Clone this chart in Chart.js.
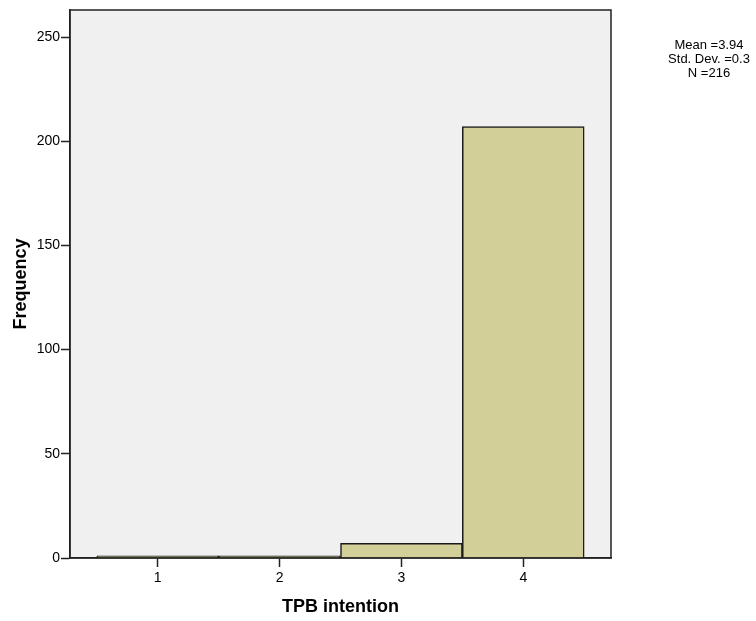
<!DOCTYPE html>
<html>
<head>
<meta charset="utf-8">
<script src="https://cdn.jsdelivr.net/npm/chart.js@4"></script>
<style>
  html, body { margin: 0; padding: 0; background: #fff; }
  #wrap { width: 756px; height: 621px; }
</style>
</head>
<body>
<div id="wrap"><canvas id="histChart" width="756" height="621"></canvas></div>
<script>
// TPB intention histogram data
const categories = [1, 2, 3, 4];
const frequencies = [1, 1, 7, 207];
const yTicks = [0, 50, 100, 150, 200, 250];
const statsLines = ['Mean =3.94', 'Std. Dev. =0.3', 'N =216'];

const font = 'Liberation Sans, Arial, sans-serif';

const plotFrame = {
    id: 'plotFrame',
    beforeDraw(chart) {
        const { ctx, chartArea: a } = chart;
        ctx.save();
        ctx.fillStyle = '#f0f0f0';
        ctx.fillRect(a.left, a.top, a.right - a.left, a.bottom - a.top);
        ctx.restore();
    },
    afterDraw(chart) {
        const { ctx, chartArea: a } = chart;
        ctx.save();
        ctx.strokeStyle = '#222';
        ctx.lineWidth = 1.5;
        ctx.strokeRect(a.left, a.top, a.right - a.left, a.bottom - a.top);

        // stats box text
        ctx.fillStyle = '#000';
        ctx.font = '13px ' + font;
        ctx.textAlign = 'center';
        ctx.textBaseline = 'middle';
        statsLines.forEach((line, i) => {
            ctx.fillText(line, 709, 45 + i * 14);
        });
        ctx.restore();
    }
};

const ctx = document.getElementById('histChart').getContext('2d');
new Chart(ctx, {
    type: 'bar',
    data: {
        datasets: [{
            data: categories.map((c, i) => ({ x: c, y: frequencies[i] })),
            backgroundColor: '#d3cf98',
            borderColor: '#1a1a1a',
            borderWidth: 1.5,
            barPercentage: 1,
            categoryPercentage: 1
        }]
    },
    options: {
        responsive: false,
        animation: false,
        layout: { padding: { top: 10, right: 145, left: 0, bottom: 0 } },
        plugins: {
            legend: { display: false },
            tooltip: { enabled: false }
        },
        scales: {
            x: {
                type: 'linear',
                offset: false,
                min: 0.28,
                max: 4.72,
                afterFit(scale) { scale.height = 63; },
                afterBuildTicks(scale) {
                    scale.ticks = categories.map(v => ({ value: v }));
                },
                ticks: {
                    color: '#000',
                    font: { family: font, size: 14 },
                    padding: 3
                },
                grid: {
                    offset: false,
                    drawOnChartArea: false,
                    tickLength: 9,
                    tickColor: '#222',
                    tickWidth: 1.5
                },
                border: { color: '#222', width: 1.5 },
                title: {
                    display: true,
                    text: 'TPB intention',
                    color: '#000',
                    font: { family: font, size: 18, weight: 'bold' },
                    padding: { top: 0, bottom: 3 }
                }
            },
            y: {
                min: 0,
                max: 263,
                afterFit(scale) { scale.width = 70; },
                afterBuildTicks(scale) {
                    scale.ticks = yTicks.map(v => ({ value: v }));
                },
                ticks: {
                    color: '#000',
                    font: { family: font, size: 14 },
                    padding: 1
                },
                grid: {
                    drawOnChartArea: false,
                    tickLength: 9,
                    tickColor: '#222',
                    tickWidth: 1.5
                },
                border: { color: '#222', width: 1.5 },
                title: {
                    display: true,
                    text: 'Frequency',
                    color: '#000',
                    font: { family: font, size: 18, weight: 'bold' },
                    padding: { top: 10, bottom: 0 }
                }
            }
        }
    },
    plugins: [plotFrame]
});
</script>
</body>
</html>
